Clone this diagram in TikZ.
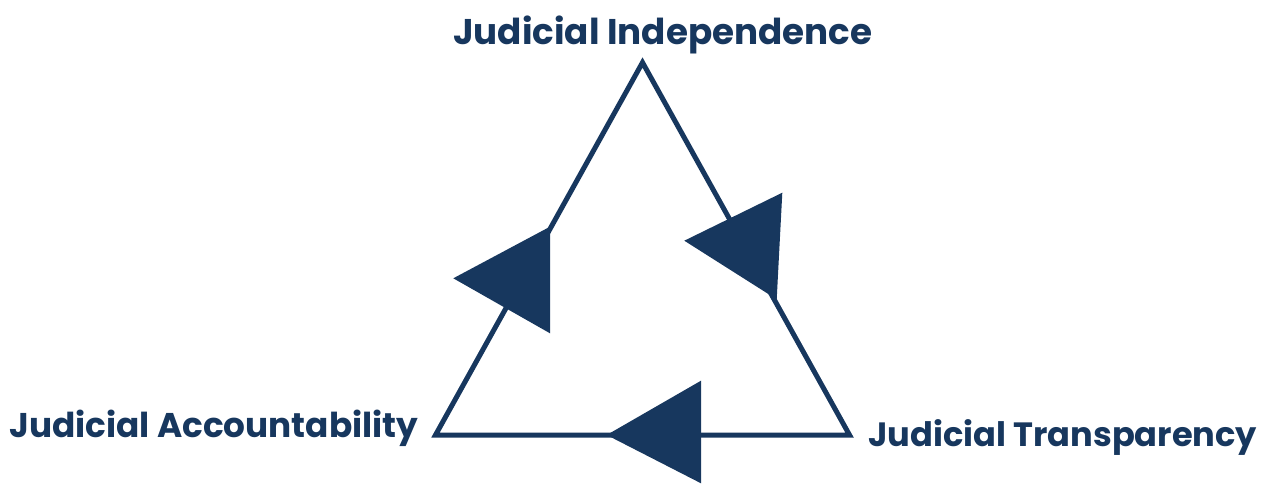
\documentclass[tikz,border=0pt]{standalone}
\usepackage{fontspec}
\setmainfont{Poppins}
\usetikzlibrary{calc}
\definecolor{navy}{HTML}{17375E}
\tikzset{
  edge/.style={draw=navy, line width=5pt, line join=miter},
  head/.style={fill=navy, draw=none},
  lab/.style={inner sep=0pt, anchor=base west, text=navy, font=\bfseries}
}
\begin{document}
\begin{tikzpicture}[x=1pt,y=-1pt]
\useasboundingbox (0,0) rectangle (1261,484);
% vertices
\coordinate (top) at (642.5,62.5);
\coordinate (bl) at (435.5,435);
\coordinate (br) at (849.5,435);
\draw[edge] (top) -- (br) -- (bl) -- cycle;
% arrowheads
\fill[head] (453.3,278.3) -- (550,226.7) -- (550,333.3) -- cycle;
\fill[head] (684.3,240.7) -- (782.3,192.7) -- (776.7,299.3) -- cycle;
\fill[head] (606.7,435) -- (701,380.7) -- (701,483.3) -- cycle;
% labels
\node[lab] (ind) at (453,45) {\resizebox{419pt}{!}{Judicial Independence}};
\node[lab] (acc) at (9,437.5) {\resizebox{409pt}{!}{Judicial Accountability}};
\node[lab] (tra) at (868,446.5) {\resizebox{389pt}{!}{Judicial Transparency}};
\end{tikzpicture}
\end{document}
